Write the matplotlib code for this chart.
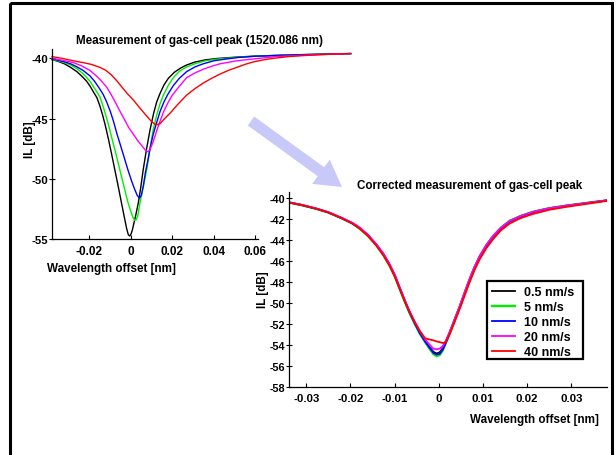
"""Gas-cell peak: raw sweep measurements vs. corrected measurements."""

import matplotlib
matplotlib.use("Agg")
import matplotlib.pyplot as plt
from matplotlib.patches import FancyArrow, Rectangle
from matplotlib.ticker import FuncFormatter

plt.rcParams["font.family"] = ["Liberation Sans", "DejaVu Sans"]
plt.rcParams["font.weight"] = "bold"

# ---------------------------------------------------------------------------
# Data
# ---------------------------------------------------------------------------

speeds = ["0.5 nm/s", "5 nm/s", "10 nm/s", "20 nm/s", "40 nm/s"]
colors = ["#000000", "#00ee00", "#0000ff", "#ff00ff", "#ff0000"]

# raw measurement, one (x, y) pair per sweep speed
raw_x_05 = [-0.0380, -0.0350, -0.0320, -0.0290, -0.0260, -0.0235, -0.0213, -0.0195, -0.0178,
            -0.0164, -0.0150, -0.0137, -0.0124, -0.0108, -0.0092, -0.0076, -0.0060, -0.0044,
            -0.0030, -0.0020, -0.0012, -0.0005, 0.0002, 0.0008, 0.0014, 0.0024, 0.0036,
            0.0048, 0.0060, 0.0076, 0.0093, 0.0110, 0.0125, 0.0141, 0.0160, 0.0181,
            0.0210, 0.0240, 0.0269, 0.0310, 0.0360, 0.0420, 0.0520, 0.0616, 0.0800, 0.1060]
raw_y_05 = [-40.10, -40.25, -40.45, -40.75, -41.10, -41.50, -41.90, -42.35, -42.85,
            -43.25, -43.90, -44.65, -45.50, -46.70, -48.00, -49.35, -50.70, -52.10,
            -53.30, -54.15, -54.65, -54.75, -54.55, -54.20, -53.75, -53.00, -52.00,
            -50.70, -49.20, -47.50, -45.90, -44.55, -43.60, -42.90, -42.20, -41.65,
            -41.15, -40.80, -40.55, -40.30, -40.12, -40.00, -39.88, -39.80, -39.70, -39.60]

raw_x_5 = [-0.0380, -0.0350, -0.0320, -0.0290, -0.0260, -0.0235, -0.0215, -0.0197, -0.0180,
           -0.0163, -0.0148, -0.0135, -0.0122, -0.0108, -0.0088, -0.0068, -0.0048, -0.0028,
           -0.0014, 0.0000, 0.0010, 0.0018, 0.0026, 0.0034, 0.0044, 0.0060, 0.0077,
           0.0092, 0.0108, 0.0125, 0.0140, 0.0157, 0.0180, 0.0205, 0.0235, 0.0270,
           0.0309, 0.0360, 0.0420, 0.0520, 0.0616, 0.0800, 0.1060]
raw_y_5 = [-40.10, -40.20, -40.35, -40.55, -40.85, -41.20, -41.55, -41.90, -42.35,
           -42.80, -43.25, -43.90, -44.65, -45.50, -46.85, -48.20, -49.60, -51.00,
           -51.95, -52.70, -53.20, -53.45, -53.40, -53.05, -52.00, -50.70, -49.20,
           -47.50, -45.90, -44.70, -43.80, -43.05, -42.25, -41.60, -41.05, -40.70,
           -40.45, -40.20, -40.05, -39.90, -39.80, -39.70, -39.60]

raw_x_10 = [-0.0380, -0.0350, -0.0320, -0.0290, -0.0260, -0.0230, -0.0197, -0.0175, -0.0155,
            -0.0133, -0.0117, -0.0100, -0.0084, -0.0068, -0.0052, -0.0036, -0.0016, 0.0004,
            0.0018, 0.0030, 0.0041, 0.0050, 0.0060, 0.0070, 0.0084, 0.0096, 0.0108,
            0.0125, 0.0141, 0.0160, 0.0178, 0.0205, 0.0234, 0.0269, 0.0310, 0.0349,
            0.0400, 0.0460, 0.0520, 0.0600, 0.0800, 0.1060]
raw_y_10 = [-40.05, -40.15, -40.28, -40.45, -40.70, -41.00, -41.45, -41.90, -42.40,
            -43.00, -43.60, -44.35, -45.20, -46.20, -47.10, -48.00, -49.15, -50.20,
            -50.85, -51.35, -51.60, -51.40, -50.60, -49.50, -48.30, -47.20, -46.30,
            -45.30, -44.40, -43.60, -43.00, -42.25, -41.65, -41.10, -40.70, -40.45,
            -40.20, -40.05, -39.92, -39.82, -39.70, -39.60]

raw_x_20 = [-0.0380, -0.0330, -0.0277, -0.0240, -0.0197, -0.0170, -0.0143, -0.0116, -0.0095,
            -0.0073, -0.0052, -0.0030, -0.0010, 0.0012, 0.0036, 0.0060, 0.0072, 0.0082,
            0.0092, 0.0100, 0.0108, 0.0125, 0.0141, 0.0160, 0.0180, 0.0200, 0.0230,
            0.0269, 0.0310, 0.0349, 0.0390, 0.0430, 0.0510, 0.0589, 0.0700, 0.0850, 0.1060]
raw_y_20 = [-40.00, -40.15, -40.35, -40.60, -41.00, -41.40, -41.85, -42.40, -43.00,
            -43.70, -44.40, -45.10, -45.75, -46.30, -46.90, -47.40, -47.65, -47.75,
            -47.60, -47.25, -46.90, -46.00, -45.20, -44.35, -43.65, -43.05, -42.40,
            -41.60, -41.20, -40.90, -40.65, -40.45, -40.20, -40.05, -39.85, -39.72, -39.60]

raw_x_40 = [-0.0380, -0.0330, -0.0277, -0.0230, -0.0190, -0.0148, -0.0120, -0.0095, -0.0068,
            -0.0040, -0.0014, 0.0012, 0.0040, 0.0077, 0.0100, 0.0115, 0.0128, 0.0142,
            0.0160, 0.0189, 0.0230, 0.0269, 0.0310, 0.0349, 0.0390, 0.0430, 0.0470,
            0.0510, 0.0550, 0.0589, 0.0640, 0.0685, 0.0760, 0.0848, 0.0950, 0.1056]
raw_y_40 = [-39.85, -40.00, -40.20, -40.35, -40.50, -40.75, -41.00, -41.35, -41.85,
            -42.45, -42.98, -43.45, -44.05, -44.80, -45.25, -45.45, -45.50, -45.40,
            -45.05, -44.55, -43.75, -43.05, -42.50, -42.05, -41.65, -41.30, -41.00,
            -40.75, -40.50, -40.30, -40.12, -40.00, -39.85, -39.75, -39.66, -39.60]

# corrected measurement, shared offset grid
cor_x = [-0.0339, -0.0310, -0.0277, -0.0250, -0.0217, -0.0195, -0.0179, -0.0160, -0.0141,
         -0.0125, -0.0111, -0.0099, -0.0088, -0.0077, -0.0066, -0.0054, -0.0043, -0.0031,
         -0.0020, -0.0012, -0.0005, 0.0002, 0.0009, 0.0016, 0.0025, 0.0036, 0.0048,
         0.0059, 0.0070, 0.0081, 0.0093, 0.0108, 0.0123, 0.0141, 0.0161, 0.0185,
         0.0213, 0.0250, 0.0289, 0.0340, 0.0381]
cor_y_05 = [-40.40, -40.65, -41.00, -41.35, -41.95, -42.40, -42.85, -43.55, -44.45,
            -45.35, -46.35, -47.40, -48.60, -49.75, -50.85, -51.90, -52.80, -53.60,
            -54.25, -54.65, -54.80, -54.70, -54.30, -53.65, -52.75, -51.55, -50.25,
            -48.95, -47.70, -46.55, -45.50, -44.45, -43.60, -42.80, -42.15, -41.70,
            -41.30, -40.95, -40.70, -40.42, -40.20]
cor_y_5 = [-40.40, -40.65, -41.00, -41.35, -41.95, -42.40, -42.90, -43.60, -44.50,
           -45.45, -46.45, -47.50, -48.70, -49.85, -50.95, -52.00, -52.90, -53.70,
           -54.40, -54.85, -55.05, -54.95, -54.50, -53.80, -52.85, -51.60, -50.30,
           -49.00, -47.75, -46.60, -45.55, -44.50, -43.62, -42.82, -42.15, -41.70,
           -41.30, -40.95, -40.70, -40.42, -40.20]
cor_y_10 = [-40.40, -40.65, -41.00, -41.35, -41.95, -42.40, -42.85, -43.55, -44.45,
            -45.40, -46.40, -47.45, -48.65, -49.80, -50.90, -51.95, -52.85, -53.65,
            -54.30, -54.75, -54.90, -54.85, -54.45, -53.80, -52.85, -51.65, -50.35,
            -49.05, -47.80, -46.65, -45.60, -44.55, -43.68, -42.88, -42.20, -41.75,
            -41.33, -40.98, -40.72, -40.44, -40.20]
cor_y_20 = [-40.38, -40.62, -40.97, -41.32, -41.90, -42.35, -42.78, -43.48, -44.38,
            -45.28, -46.28, -47.32, -48.52, -49.68, -50.78, -51.80, -52.65, -53.45,
            -54.00, -54.35, -54.40, -54.35, -54.10, -53.60, -52.75, -51.55, -50.25,
            -48.95, -47.70, -46.55, -45.50, -44.45, -43.60, -42.80, -42.15, -41.70,
            -41.30, -40.95, -40.70, -40.42, -40.20]
cor_y_40 = [-40.40, -40.65, -41.00, -41.35, -41.95, -42.42, -42.88, -43.60, -44.52,
            -45.45, -46.45, -47.50, -48.65, -49.80, -50.85, -51.85, -52.65, -53.35,
            -53.48, -53.55, -53.65, -53.72, -53.80, -53.75, -52.95, -51.80, -50.50,
            -49.25, -48.00, -46.85, -45.80, -44.75, -43.90, -43.05, -42.40, -41.90,
            -41.50, -41.10, -40.82, -40.50, -40.25]

raw_curves = [(raw_x_05, raw_y_05), (raw_x_5, raw_y_5), (raw_x_10, raw_y_10),
              (raw_x_20, raw_y_20), (raw_x_40, raw_y_40)]
cor_curves = [cor_y_05, cor_y_5, cor_y_10, cor_y_20, cor_y_40]

left_xticks = [-0.02, 0, 0.02, 0.04, 0.06]
left_yticks = [-40, -45, -50, -55]
right_xticks = [-0.03, -0.02, -0.01, 0, 0.01, 0.02, 0.03]
right_yticks = list(range(-58, -39, 2))

# ---------------------------------------------------------------------------
# Figure
# ---------------------------------------------------------------------------

W, H = 616, 456
fig = plt.figure(figsize=(W / 100, H / 100), dpi=100)
fig.patch.set_facecolor("white")


def px_rect(x0, y0, x1, y1):
    """Axes rect in figure fractions from pixel corners (top-left origin)."""
    return [x0 / W, 1 - y1 / H, (x1 - x0) / W, (y1 - y0) / H]


# pixel-space overlay for border, arrow, legend frame and free texts
bg = fig.add_axes([0, 0, 1, 1], zorder=0)
bg.set_xlim(0, W)
bg.set_ylim(H, 0)
bg.axis("off")
bg.add_patch(Rectangle((9.5, 3.5), 602, 470, fill=False, ec="black", lw=2.2,
                       clip_on=False))
bg.add_patch(FancyArrow(251, 122, 91, 66, width=11, head_width=30, head_length=26,
                        length_includes_head=True, color="#c9c9f9", lw=0))
bg.add_patch(Rectangle((487, 282), 96, 78, fill=False, ec="black", lw=1.6))

fmt = FuncFormatter(lambda v, _: f"{v:g}")
TXT = dict(fontsize=8.4, fontweight="bold")


def style_axes(ax, xsize, ysize):
    ax.set_facecolor("none")
    for s in ("top", "right"):
        ax.spines[s].set_visible(False)
    for s in ("left", "bottom"):
        ax.spines[s].set_linewidth(0.9)
    ax.tick_params(axis="x", direction="in", length=3, width=0.8, pad=4,
                   labelsize=xsize)
    ax.tick_params(axis="y", direction="inout", length=5, width=0.8, pad=0,
                   labelsize=ysize)
    ax.xaxis.set_major_formatter(fmt)
    ax.yaxis.set_major_formatter(fmt)
    for lab in ax.get_xticklabels() + ax.get_yticklabels():
        lab.set_fontweight("bold")


# left: raw measurement
axl = fig.add_axes(px_rect(52, 50, 258, 240), zorder=1)
for (x, y), c in zip(raw_curves, colors):
    axl.plot(x, y, color=c, lw=1.0, clip_on=False)
axl.set_xlim(-0.038, 0.0613)
axl.set_ylim(-55, -39.22)
axl.set_xticks(left_xticks)
axl.set_yticks(left_yticks)
style_axes(axl, 8.5, 8.2)

# right: corrected measurement
axr = fig.add_axes(px_rect(289, 193, 607, 388), zorder=1)
for y, c, lab in zip(cor_curves, colors, speeds):
    lw = 1.7 if lab == "5 nm/s" else 1.3
    axr.plot(cor_x, y, color=c, lw=lw, label=lab)
axr.set_xlim(-0.0339, 0.0381)
axr.set_ylim(-58, -39.4)
axr.set_xticks(right_xticks)
axr.set_yticks(right_yticks)
style_axes(axr, 8.2, 7.8)

axr.legend(loc="upper left", bbox_to_anchor=(487 / W, 1 - 282 / H),
           bbox_transform=fig.transFigure, borderaxespad=0,
           prop={"size": 9, "weight": "bold"}, frameon=False,
           handlelength=1.85, handletextpad=0.7, labelspacing=0.25,
           borderpad=0.4)

bg.text(200, 41, "Measurement of gas-cell peak (1520.086 nm)", ha="center",
        va="center", **TXT)
bg.text(470, 186, "Corrected measurement of gas-cell peak", ha="center",
        va="center", **TXT)
bg.text(111, 269, "Wavelength offset [nm]", ha="center", va="center", **TXT)
bg.text(599, 420, "Wavelength offset [nm]", ha="right", va="center", **TXT)
bg.text(30, 140, "IL [dB]", ha="center", va="center", rotation=90, **TXT)
bg.text(263, 290, "IL [dB]", ha="center", va="center", rotation=90, **TXT)

fig.savefig("out.png", dpi=100)
